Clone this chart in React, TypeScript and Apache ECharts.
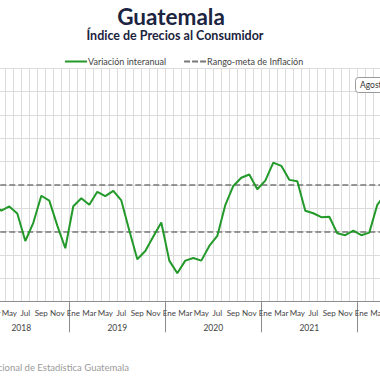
import React, { useEffect, useRef } from "react";
import * as echarts from "echarts";

const MONTH_NAMES = ["Ene", "Feb", "Mar", "Abr", "May", "Jun", "Jul", "Ago", "Sep", "Oct", "Nov", "Dic"];
const FIRST_YEAR = 2018;
const MONTH_COUNT = 52; // Ene 2018 – Abr 2022

const CATEGORIES: string[] = Array.from({ length: MONTH_COUNT }, (_, i) => MONTH_NAMES[i % 12]);

const INFLACION_2018 = [3.71, 3.94, 4.15, 3.9, 4.08, 3.78, 2.6, 3.38, 4.54, 4.33, 3.26, 2.29];
const INFLACION_2019 = [4.09, 4.43, 4.15, 4.71, 4.52, 4.75, 4.34, 3.05, 1.82, 2.17, 2.79, 3.39];
const INFLACION_2020 = [1.76, 1.22, 1.76, 1.87, 1.76, 2.39, 2.82, 4.14, 4.96, 5.31, 5.45, 4.82];
const INFLACION_2021 = [5.19, 5.96, 5.82, 5.22, 5.16, 3.9, 3.79, 3.62, 3.64, 2.93, 2.85, 3.04];
const INFLACION_2022 = [2.85, 2.96, 4.15, 4.62];

const VARIACION = [
  ...INFLACION_2018,
  ...INFLACION_2019,
  ...INFLACION_2020,
  ...INFLACION_2021,
  ...INFLACION_2022,
];

const META_BAJA = 3;
const META_ALTA = 5;

const FONT = "Lato, 'DejaVu Sans', sans-serif";
const GREEN = "#23992a";
const GRAY_DASH = "#777777";

export default function App() {
  const ref = useRef<HTMLDivElement>(null);

  useEffect(() => {
    if (!ref.current) return;
    const chart = echarts.init(ref.current, undefined, { renderer: "svg" });
    chart.setOption({
      animation: false,
      backgroundColor: "#ffffff",
      textStyle: { fontFamily: FONT },
      graphic: [
        {
          type: "text",
          x: 211,
          y: 16,
          style: {
            text: "Guatemala",
            fontFamily: FONT,
            fontSize: 22.5,
            fontWeight: "bold",
            fill: "#1b2440",
            align: "center",
            verticalAlign: "middle",
          },
        },
        {
          type: "text",
          x: 215,
          y: 35.5,
          style: {
            text: "Índice de Precios al Consumidor",
            fontFamily: FONT,
            fontSize: 12.5,
            fontWeight: "bold",
            fill: "#1b2440",
            align: "center",
            verticalAlign: "middle",
          },
        },
        {
          type: "text",
          x: 169,
          y: 367,
          style: {
            text: "Fuente: Instituto Nacional de Estadística Guatemala",
            fontFamily: FONT,
            fontSize: 9.5,
            fill: "#9a9a9a",
            align: "right",
            verticalAlign: "middle",
          },
        },
        {
          type: "rect",
          shape: { x: 395.5, y: 77.5, width: 60, height: 15, r: 3 },
          style: { fill: "#ffffff", stroke: "#9a9a9a", lineWidth: 1 },
          z: 100,
        },
        {
          type: "text",
          x: 400,
          y: 85,
          z: 101,
          style: {
            text: "Agosto 2022",
            fontFamily: FONT,
            fontSize: 8.5,
            fill: "#333333",
            align: "left",
            verticalAlign: "middle",
          },
        },
      ],
      legend: {
        left: 100,
        top: 52,
        itemWidth: 22,
        itemHeight: 2,
        itemGap: 18,
        textStyle: { fontFamily: FONT, fontSize: 9, color: "#444444", padding: [0, 0, 0, -4] },
        data: [
          { name: "Variación interanual", icon: "rect" },
          {
            name: "Rango-meta de Inflación",
            icon: "path://M0,0h6v2h-6z M8,0h6v2h-6z M16,0h6v2h-6z",
          },
        ],
      },
      grid: { left: 13.3, right: 10.7, top: 68.3, bottom: 78.3, containLabel: false },
      xAxis: [
        {
          type: "category",
          data: CATEGORIES,
          boundaryGap: true,
          axisLine: { show: true, lineStyle: { color: "#8c8c8c", width: 1 } },
          axisTick: { show: false },
          axisLabel: { interval: 1, fontSize: 8, color: "#444444", margin: 7, fontFamily: FONT },
          splitLine: { show: true, interval: 0, lineStyle: { color: "#dcdcdc", width: 1 } },
        },
        {
          type: "value",
          position: "bottom",
          min: 0,
          max: MONTH_COUNT,
          interval: 6,
          axisLine: { show: false },
          axisTick: { show: false },
          splitLine: { show: false },
          axisLabel: {
            fontSize: 8.5,
            color: "#444444",
            margin: 22,
            fontFamily: FONT,
            formatter: (v: number) => (v % 12 === 6 ? String(FIRST_YEAR + (v - 6) / 12) : ""),
          },
        },
        {
          type: "value",
          position: "bottom",
          min: 0,
          max: MONTH_COUNT,
          interval: 12,
          axisLine: { show: false },
          axisTick: { show: true, length: 30.6, lineStyle: { color: "#8c8c8c", width: 1 } },
          splitLine: { show: false },
          axisLabel: { show: false },
        },
      ],
      yAxis: {
        type: "value",
        min: 0,
        max: 10,
        interval: 1,
        axisLine: { show: false },
        axisTick: { show: false },
        axisLabel: { show: false },
        splitLine: { show: true, lineStyle: { color: "#dcdcdc", width: 1 } },
      },
      series: [
        {
          name: "Variación interanual",
          type: "line",
          xAxisIndex: 0,
          data: VARIACION,
          showSymbol: false,
          symbol: "none",
          lineStyle: { color: GREEN, width: 2 },
          itemStyle: { color: GREEN },
          z: 5,
        },
        {
          name: "Rango-meta de Inflación",
          type: "line",
          xAxisIndex: 0,
          data: [],
          symbol: "none",
          lineStyle: { color: GRAY_DASH, width: 1.5, type: [6, 3] },
          itemStyle: { color: GRAY_DASH },
          markLine: {
            silent: true,
            symbol: ["none", "none"],
            label: { show: false },
            lineStyle: { color: GRAY_DASH, width: 1.5, type: [6, 3] },
            data: [{ yAxis: META_ALTA }, { yAxis: META_BAJA }],
          },
          z: 4,
        },
      ],
    });
    return () => chart.dispose();
  }, []);

  return (
    <div
      style={{
        position: "fixed",
        left: 0,
        top: 0,
        width: 380,
        height: 380,
        overflow: "hidden",
        background: "#ffffff",
      }}
    >
      <div ref={ref} style={{ position: "absolute", left: -40, top: 0, width: 440, height: 380 }} />
    </div>
  );
}
